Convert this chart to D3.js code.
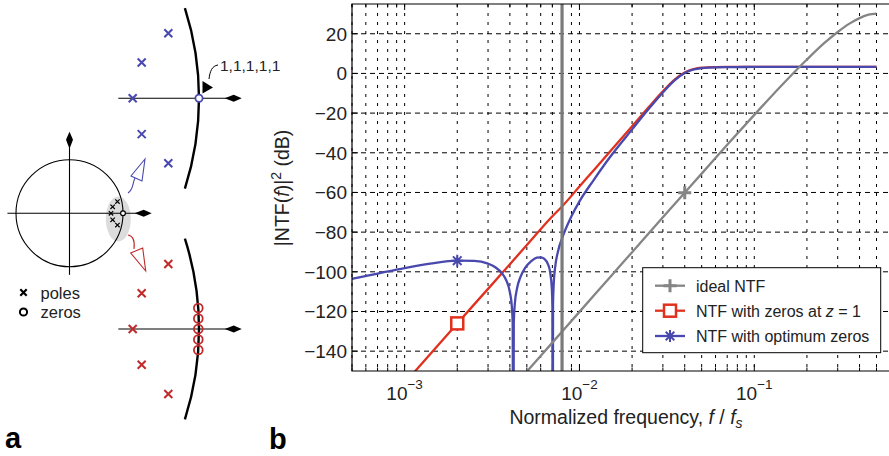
<!DOCTYPE html>
<html>
<head>
<meta charset="utf-8">
<script src="https://cdn.jsdelivr.net/npm/d3@7"></script>
<style>
  body { margin: 0; background: #fff; }
  svg { display: block; font-family: "Liberation Sans", Arial, Helvetica, sans-serif; }
</style>
</head>
<body>
<script>
// ---- panel b data: frequency (f/fs) and |NTF|^2 in dB ----
const idealNtf = [
  [4.5e-3, -154.9], [5e-3, -150.3], [7e-3, -135.7], [1e-2, -120.2], [1.5e-2, -102.6],
  [2e-2, -90.1], [3e-2, -72.5], [4e-2, -60.1], [5e-2, -50.5], [7e-2, -36.0],
  [0.1, -20.9], [0.15, -4.2], [0.2, 7.0], [0.25, 15.1], [0.3, 20.9],
  [0.35, 25.1], [0.4, 27.9], [0.45, 29.6], [0.5, 30.1]
];
const zerosAtOneNtf = [
  [1e-3, -156.1], [2e-3, -126.0], [3e-3, -108.6], [5e-3, -86.5], [7e-3, -72.0],
  [8e-3, -66.8], [1e-2, -57.0], [1.2e-2, -49.0], [1.5e-2, -39.2], [2e-2, -26.6],
  [2.5e-2, -16.8], [3e-2, -9.0], [3.5e-2, -3.1], [4e-2, 0.5], [4.5e-2, 2.2],
  [5e-2, 2.9], [6e-2, 3.2], [8e-2, 3.3], [0.1, 3.3], [0.2, 3.3], [0.3, 3.3], [0.5, 3.3]
];
// notches fall far below the axis, -250 stands for "off the bottom"
const optimumZerosNtf = [
  [5e-4, -103.6], [7e-4, -100.9], [1e-3, -98.1], [1.4e-3, -95.9], [2e-3, -94.4],
  [2.5e-3, -94.5], [3e-3, -95.9], [3.3e-3, -97.7], [3.6e-3, -100.7], [3.8e-3, -104.0],
  [4.0e-3, -110.3], [4.1e-3, -117.2], [4.15e-3, -125.7], [4.18e-3, -250], [4.21e-3, -125.6],
  [4.27e-3, -116.0], [4.4e-3, -108.2], [4.6e-3, -102.5], [4.9e-3, -97.9], [5.3e-3, -94.6],
  [5.7e-3, -92.9], [6.0e-3, -92.7], [6.3e-3, -93.5], [6.6e-3, -96.1], [6.8e-3, -100.3],
  [6.95e-3, -108.6], [7.0e-3, -116.8], [7.03e-3, -250], [7.06e-3, -116.4], [7.12e-3, -106.6],
  [7.25e-3, -98.1], [7.5e-3, -90.5], [8e-3, -82.5], [9e-3, -72.0], [1e-2, -64.5],
  [1.2e-2, -54.0], [1.5e-2, -42.0], [2e-2, -28.2], [2.5e-2, -17.7], [3e-2, -9.6],
  [3.5e-2, -3.5], [4e-2, 0.2], [4.5e-2, 2.0], [5e-2, 2.7], [6e-2, 3.1], [8e-2, 3.2],
  [0.1, 3.3], [0.2, 3.3], [0.3, 3.3], [0.5, 3.3]
];
const idealMarker = [4e-2, -60.1];
const zerosAtOneMarker = [2e-3, -126.0];
const optimumMarker = [2e-3, -94.4];
const bandEdge = 7.95e-3;
const yTicks = [-140, -120, -100, -80, -60, -40, -20, 0, 20];
const xTicks = [1e-3, 1e-2, 1e-1];
const xTickExp = ["\u22123", "\u22122", "\u22121"];
const legendItems = ["ideal NTF", "NTF with zeros at ", "NTF with optimum zeros"];

// ---- panel a data: pole / zero positions in the z-plane ----
const poles = [[0.8963, 0.2196], [0.8064, 0.121], [0.776, 0], [0.8064, -0.121], [0.8963, -0.2196]];
const zeroAtOne = [1, 0];
const zeroStack = [-2, -1, 0, 1, 2]; // five coincident zeros at z = 1, drawn stacked

const W = 889, H = 456;
const BLUE = "#4848ae", RED = "#e0301e", DRED = "#c02a2a", GRAY = "#858585";

const svg = d3.select("body").append("svg").attr("width", W).attr("height", H);

function cross(g, cx, cy, s, color, sw) {
  g.append("path")
    .attr("d", `M${cx - s},${cy - s}L${cx + s},${cy + s}M${cx - s},${cy + s}L${cx + s},${cy - s}`)
    .attr("stroke", color).attr("stroke-width", sw).attr("fill", "none");
}
function arrowHead(g, x, y, dir) {
  const pts = dir === "up"
    ? [[x, y], [x - 3.5, y + 8], [x, y + 17], [x + 3.5, y + 8]]
    : [[x, y], [x - 8, y - 3.5], [x - 17, y], [x - 8, y + 3.5]];
  g.append("path").attr("d", "M" + pts.join("L") + "Z").attr("fill", "#000");
}

// =================== panel a ===================
const pa = svg.append("g");
const sx = d3.scaleLinear().domain([-1, 1]).range([16, 123]);
const sy = d3.scaleLinear().domain([-1, 1]).range([266.8, 159.8]);

pa.append("ellipse").attr("cx", 118.3).attr("cy", 219).attr("rx", 12.5).attr("ry", 22.5)
  .attr("fill", "#dcdcdc");
pa.append("circle").attr("cx", sx(0)).attr("cy", sy(0)).attr("r", sx(1) - sx(0))
  .attr("fill", "none").attr("stroke", "#000").attr("stroke-width", 1.1);
pa.append("line").attr("x1", sx(-1.16)).attr("x2", sx(1.45)).attr("y1", sy(0)).attr("y2", sy(0))
  .attr("stroke", "#000").attr("stroke-width", 1.1);
arrowHead(pa, sx(1.536), sy(0), "right");
pa.append("line").attr("x1", sx(0)).attr("x2", sx(0)).attr("y1", sy(-1.15)).attr("y2", sy(1.45))
  .attr("stroke", "#000").attr("stroke-width", 1.1);
arrowHead(pa, sx(0), sy(1.525), "up");
poles.forEach(p => cross(pa, sx(p[0]), sy(p[1]), 2.2, "#000", 1.2));
pa.append("circle").attr("cx", sx(zeroAtOne[0])).attr("cy", sy(zeroAtOne[1])).attr("r", 2.4)
  .attr("fill", "#fff").attr("stroke", "#000").attr("stroke-width", 1.2);

// hollow arrows to the zoomed views
pa.append("path").attr("d", "M128,193 C134,189 132,184 135,178")
  .attr("fill", "none").attr("stroke", BLUE).attr("stroke-width", 1.1);
pa.append("path").attr("d", "M145,159 L131,176 L142,181 Z")
  .attr("fill", "#fff").attr("stroke", BLUE).attr("stroke-width", 1.1);
pa.append("path").attr("d", "M128,235 C134,236 135,241 134,249")
  .attr("fill", "none").attr("stroke", DRED).attr("stroke-width", 1.1);
pa.append("path").attr("d", "M145.7,271 L130.7,253 L142.7,248 Z")
  .attr("fill", "#fff").attr("stroke", DRED).attr("stroke-width", 1.1);

// zoomed views near z = 1
function zoomView(cy, poleColor, drawZeros) {
  const g = pa.append("g");
  const zx = d3.scaleLinear().domain([0, 1]).range([199 - 296, 199]);
  const zy = d3.scaleLinear().domain([-1, 1]).range([cy + 296, cy - 296]);
  const a0 = Math.asin(0.305);
  const arc = d3.path();
  arc.arc(zx(0), zy(0), zx(1) - zx(0), -a0, a0);
  g.append("path").attr("d", arc.toString()).attr("fill", "none")
    .attr("stroke", "#000").attr("stroke-width", 2.4);
  g.append("line").attr("x1", zx(0.7274)).attr("x2", zx(1.11)).attr("y1", zy(0)).attr("y2", zy(0))
    .attr("stroke", "#000").attr("stroke-width", 1.1);
  arrowHead(g, zx(1.1443), zy(0), "right");
  poles.forEach(p => cross(g, zx(p[0]), zy(p[1]), 4, poleColor, 2));
  drawZeros(g, zx, zy);
}
zoomView(98.3, BLUE, (g, zx, zy) => {
  g.append("circle").attr("cx", zx(zeroAtOne[0])).attr("cy", zy(zeroAtOne[1])).attr("r", 3.6)
    .attr("fill", "#fff").attr("stroke", BLUE).attr("stroke-width", 1.8);
});
zoomView(329, DRED, (g, zx, zy) => {
  g.selectAll("circle.z").data(zeroStack).join("circle")
    .attr("cx", zx(zeroAtOne[0]) - 0.7).attr("cy", d => zy(zeroAtOne[1]) + d * 10.5).attr("r", 4.4)
    .attr("fill", "none").attr("stroke", DRED).attr("stroke-width", 1.8);
});

pa.append("text").attr("x", 220).attr("y", 71).attr("font-size", 15.5).attr("fill", "#222")
  .text("1,1,1,1,1");
pa.append("path").attr("d", "M218,65 C212,66 210,71 209,79").attr("fill", "none")
  .attr("stroke", "#000").attr("stroke-width", 1);
pa.append("path").attr("d", "M202.5,81 L213,87.5 L202.5,93.5 Z").attr("fill", "#000");

cross(pa, 23.5, 292.5, 3.2, "#000", 2.2);
pa.append("text").attr("x", 40.5).attr("y", 298.5).attr("font-size", 16.5).attr("fill", "#222").text("poles");
pa.append("circle").attr("cx", 23.5).attr("cy", 312).attr("r", 3.6).attr("fill", "none")
  .attr("stroke", "#000").attr("stroke-width", 2);
pa.append("text").attr("x", 40.5).attr("y", 317.5).attr("font-size", 16.5).attr("fill", "#222").text("zeros");

svg.append("text").attr("x", 5).attr("y", 448).attr("font-size", 29).attr("font-weight", "bold").text("a");
svg.append("text").attr("x", 269).attr("y", 449).attr("font-size", 29).attr("font-weight", "bold").text("b");

// =================== panel b ===================
const L = 352, T = 4, B = 371, R = 900;
const x = d3.scaleLog().domain([5e-4, 0.5]).range([L, 876.5]);
const y = d3.scaleLinear().domain([-150, 35]).range([B, T]);
const xMax = x.invert(R);

const pb = svg.append("g");
pb.append("rect").attr("x", L).attr("y", T).attr("width", R - L).attr("height", B - T).attr("fill", "#fff");

// grid
const minor = [];
[1e-4, 1e-3, 1e-2, 1e-1].forEach(dec => d3.range(1, 10).forEach(k => {
  const v = dec * k;
  if (v >= 5e-4 && v <= xMax) minor.push(v);
}));
pb.selectAll("line.vg").data(minor).join("line")
  .attr("x1", d => x(d)).attr("x2", d => x(d)).attr("y1", T).attr("y2", B)
  .attr("stroke", "#000").attr("stroke-width", 1).attr("stroke-dasharray", "3,6");
pb.selectAll("line.hg").data(yTicks).join("line")
  .attr("x1", L).attr("x2", R).attr("y1", d => y(d)).attr("y2", d => y(d))
  .attr("stroke", "#000").attr("stroke-width", 1).attr("stroke-dasharray", "5,4");

// ticks (inward)
pb.selectAll("line.yt").data(yTicks).join("line")
  .attr("x1", L).attr("x2", L + 6).attr("y1", d => y(d)).attr("y2", d => y(d))
  .attr("stroke", "#000");
pb.selectAll("line.xt").data(minor).join("line")
  .attr("x1", d => x(d)).attr("x2", d => x(d))
  .attr("y1", B).attr("y2", d => B - (xTicks.includes(d) ? 6 : 3.5)).attr("stroke", "#000");
pb.selectAll("line.xtt").data(minor).join("line")
  .attr("x1", d => x(d)).attr("x2", d => x(d))
  .attr("y1", T).attr("y2", d => T + (xTicks.includes(d) ? 6 : 3.5)).attr("stroke", "#000");

// curves
svg.append("clipPath").attr("id", "plotClip").append("rect")
  .attr("x", L).attr("y", T).attr("width", R - L).attr("height", B - T);
const plot = pb.append("g").attr("clip-path", "url(#plotClip)");
const line = d3.line().x(d => x(d[0])).y(d => y(d[1])).curve(d3.curveMonotoneX);

plot.append("path").datum(zerosAtOneNtf).attr("d", line).attr("fill", "none")
  .attr("stroke", RED).attr("stroke-width", 2.3);
plot.append("path").datum(optimumZerosNtf).attr("d", line).attr("fill", "none")
  .attr("stroke", BLUE).attr("stroke-width", 2.3);
plot.append("path").datum(idealNtf).attr("d", line).attr("fill", "none")
  .attr("stroke", GRAY).attr("stroke-width", 2.3);
plot.append("line").attr("x1", x(bandEdge)).attr("x2", x(bandEdge)).attr("y1", T).attr("y2", B)
  .attr("stroke", "#7a7a7a").attr("stroke-width", 3.2);

function plusMark(g, cx, cy, color) {
  g.append("path").attr("d", `M${cx - 6.5},${cy}H${cx + 6.5}M${cx},${cy - 6.5}V${cy + 6.5}`)
    .attr("stroke", color).attr("stroke-width", 3);
}
function squareMark(g, cx, cy, color) {
  g.append("rect").attr("x", cx - 6).attr("y", cy - 6).attr("width", 12).attr("height", 12)
    .attr("fill", "#fff").attr("stroke", color).attr("stroke-width", 2.5);
}
function starMark(g, cx, cy, color) {
  const s = 6, d = 4.3;
  g.append("path")
    .attr("d", `M${cx - s},${cy}H${cx + s}M${cx},${cy - s}V${cy + s}M${cx - d},${cy - d}L${cx + d},${cy + d}M${cx - d},${cy + d}L${cx + d},${cy - d}`)
    .attr("stroke", color).attr("stroke-width", 2);
}
plusMark(plot, x(idealMarker[0]), y(idealMarker[1]), GRAY);
squareMark(plot, x(zerosAtOneMarker[0]), y(zerosAtOneMarker[1]), RED);
starMark(plot, x(optimumMarker[0]), y(optimumMarker[1]), BLUE);

// frame
pb.append("path").attr("d", `M${R},${T}H${L}V${B}H${R}`).attr("fill", "none")
  .attr("stroke", "#000").attr("stroke-width", 1.2);

// tick labels
pb.selectAll("text.yl").data(yTicks).join("text")
  .attr("x", L - 5).attr("y", d => y(d) + 7).attr("text-anchor", "end")
  .attr("font-size", 19).attr("fill", "#222")
  .text(d => d < 0 ? "\u2212" + Math.abs(d) : d);
xTicks.forEach((t, i) => {
  const tx = pb.append("text").attr("x", x(t)).attr("y", 399.5).attr("text-anchor", "middle")
    .attr("font-size", 19).attr("fill", "#222");
  tx.append("tspan").text("10");
  tx.append("tspan").attr("dy", -11).attr("font-size", 13.5).text(xTickExp[i]);
});

// axis labels
const xl = pb.append("text").attr("x", 626).attr("y", 423.5).attr("text-anchor", "middle")
  .attr("font-size", 19.5).attr("fill", "#222");
xl.append("tspan").text("Normalized frequency, ");
xl.append("tspan").attr("font-style", "italic").text("f");
xl.append("tspan").text(" / ");
xl.append("tspan").attr("font-style", "italic").text("f");
xl.append("tspan").attr("font-style", "italic").attr("font-size", 14).attr("dy", 4).text("s");

const yl = pb.append("text").attr("transform", "translate(289,188) rotate(-90)")
  .attr("text-anchor", "middle").attr("font-size", 19.5).attr("fill", "#222");
yl.append("tspan").text("|NTF(");
yl.append("tspan").attr("font-style", "italic").text("f");
yl.append("tspan").text(")|");
yl.append("tspan").attr("dy", -8).attr("font-size", 14).text("2");
yl.append("tspan").attr("dy", 8).text(" (dB)");

// legend
const lg = pb.append("g");
lg.append("rect").attr("x", 642.7).attr("y", 267.7).attr("width", 238).attr("height", 85)
  .attr("fill", "#fff").attr("stroke", "#000").attr("stroke-width", 1);
const rowsY = [285.7, 310.7, 336];
const legendColors = [GRAY, RED, BLUE];
const legendMarks = [plusMark, squareMark, starMark];
rowsY.forEach((ry, i) => {
  lg.append("line").attr("x1", 655).attr("x2", 685).attr("y1", ry).attr("y2", ry)
    .attr("stroke", legendColors[i]).attr("stroke-width", 2.3);
  legendMarks[i](lg, 670, ry, legendColors[i]);
  const t = lg.append("text").attr("x", 696).attr("y", ry + 6).attr("font-size", 16).attr("fill", "#222");
  t.append("tspan").text(legendItems[i]);
  if (i === 1) {
    t.append("tspan").attr("font-style", "italic").text("z");
    t.append("tspan").text(" = 1");
  }
});
</script>
</body>
</html>
